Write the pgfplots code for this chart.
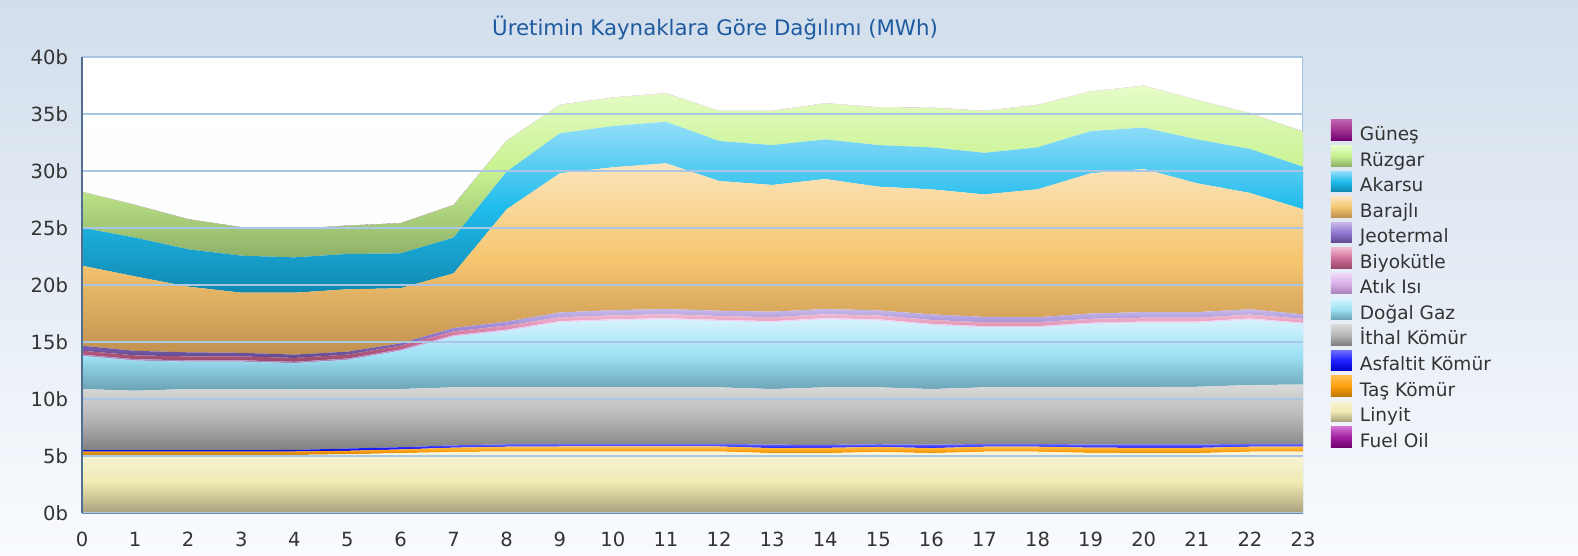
\documentclass[border=0pt]{standalone}
\usepackage{fontspec}
\setmainfont{DejaVu Sans}
\usepackage{pgfplots}
\pgfplotsset{compat=1.18}
\usepackage{pgfplotstable}

\definecolor{bgTop}{HTML}{D2DEEC}
\definecolor{bgBot}{HTML}{F9FBFE}
\definecolor{titleBlue}{HTML}{1E5AA0}
\definecolor{gridc}{HTML}{A9C6E4}
\definecolor{axisc}{HTML}{51708F}
\definecolor{borderc}{HTML}{A3C3E3}
\definecolor{txt}{HTML}{333333}

\definecolor{foT}{HTML}{D070D0}\definecolor{foM}{HTML}{A020A0}\definecolor{foB}{HTML}{700070}
\definecolor{linT}{HTML}{F7F4DA}\definecolor{linM}{HTML}{F0EAB2}\definecolor{linB}{HTML}{A8A07C}
\definecolor{tasT}{HTML}{FFC050}\definecolor{tasM}{HTML}{FFA010}\definecolor{tasB}{HTML}{C07800}
\definecolor{asfT}{HTML}{7070FF}\definecolor{asfM}{HTML}{2020FF}\definecolor{asfB}{HTML}{0000C8}
\definecolor{ithT}{HTML}{DADADA}\definecolor{ithM}{HTML}{B8B8B8}\definecolor{ithB}{HTML}{808080}
\definecolor{gazT}{HTML}{D6F3FC}\definecolor{gazM}{HTML}{9FE2F6}\definecolor{gazB}{HTML}{6AA2B4}
\definecolor{atiT}{HTML}{F0D8F8}\definecolor{atiM}{HTML}{D8B0E8}\definecolor{atiB}{HTML}{A880B8}
\definecolor{biyT}{HTML}{F0B8D0}\definecolor{biyM}{HTML}{D07098}\definecolor{biyB}{HTML}{984868}
\definecolor{jeoT}{HTML}{C8B8E8}\definecolor{jeoM}{HTML}{9078D0}\definecolor{jeoB}{HTML}{604890}
\definecolor{barT}{HTML}{FBE4BC}\definecolor{barM}{HTML}{F6C670}\definecolor{barB}{HTML}{C09050}
\definecolor{akaT}{HTML}{94DEF8}\definecolor{akaM}{HTML}{20BCEC}\definecolor{akaB}{HTML}{1088B0}
\definecolor{ruzT}{HTML}{E6FCC8}\definecolor{ruzM}{HTML}{C8F290}\definecolor{ruzB}{HTML}{8EB068}
\definecolor{gunT}{HTML}{C060B0}\definecolor{gunM}{HTML}{A03090}\definecolor{gunB}{HTML}{700070}

\pgfplotstableread{
h fo lin tas asf ith gaz atik biyo jeo bar aka ruz gun
0 0.02 5.10 0.30 0.12 5.36 2.90 0.12 0.34 0.44 7.02 3.33 3.15 0.01
1 0.02 5.10 0.30 0.12 5.21 2.65 0.12 0.34 0.39 6.53 3.40 2.86 0.01
2 0.02 5.10 0.30 0.12 5.36 2.40 0.12 0.34 0.36 5.76 3.28 2.63 0.01
3 0.02 5.10 0.30 0.12 5.36 2.40 0.12 0.34 0.32 5.27 3.25 2.49 0.01
4 0.02 5.10 0.30 0.14 5.32 2.29 0.12 0.34 0.29 5.43 3.10 2.49 0.01
5 0.02 5.16 0.30 0.20 5.22 2.56 0.12 0.34 0.26 5.47 3.10 2.48 0.01
6 0.02 5.26 0.32 0.20 5.10 3.35 0.12 0.34 0.19 4.84 3.06 2.64 0.01
7 0.02 5.36 0.38 0.20 5.09 4.45 0.12 0.34 0.29 4.80 3.13 2.86 0.01
8 0.02 5.40 0.42 0.22 5.01 4.93 0.12 0.34 0.36 9.85 3.30 2.71 0.01
9 0.02 5.40 0.44 0.24 4.97 5.67 0.12 0.34 0.42 12.20 3.51 2.49 0.01
10 0.02 5.40 0.44 0.24 4.97 5.83 0.12 0.34 0.46 12.53 3.62 2.49 0.01
11 0.02 5.40 0.44 0.24 4.97 5.93 0.12 0.34 0.46 12.78 3.65 2.49 0.01
12 0.02 5.40 0.44 0.24 4.95 5.80 0.12 0.34 0.46 11.38 3.51 2.63 0.01
13 0.02 5.26 0.44 0.30 4.88 5.84 0.12 0.34 0.49 11.11 3.50 2.99 0.01
14 0.02 5.26 0.46 0.26 5.05 5.95 0.12 0.34 0.46 11.40 3.48 3.16 0.01
15 0.02 5.36 0.44 0.24 4.99 5.85 0.12 0.34 0.44 10.85 3.65 3.31 0.01
16 0.02 5.26 0.44 0.30 4.88 5.60 0.12 0.34 0.49 10.97 3.68 3.48 0.01
17 0.02 5.38 0.44 0.24 4.97 5.25 0.12 0.34 0.47 10.74 3.65 3.67 0.01
18 0.02 5.38 0.44 0.24 4.99 5.23 0.12 0.34 0.44 11.22 3.68 3.72 0.01
19 0.02 5.28 0.46 0.28 5.03 5.53 0.12 0.34 0.47 12.29 3.71 3.46 0.01
20 0.02 5.26 0.46 0.30 5.03 5.63 0.12 0.34 0.49 12.55 3.63 3.67 0.01
21 0.02 5.26 0.46 0.30 5.06 5.60 0.12 0.34 0.49 11.30 3.85 3.45 0.01
22 0.02 5.38 0.44 0.24 5.17 5.72 0.12 0.34 0.47 10.20 3.86 3.13 0.01
23 0.02 5.40 0.44 0.24 5.20 5.30 0.12 0.34 0.39 9.22 3.73 3.07 0.01
}\data

\begin{document}
\begin{tikzpicture}
\fill[top color=bgTop, bottom color=bgBot, draw=none] (0,0) rectangle (789bp,278bp);
\node[font=\fontsize{10.7}{12}\selectfont, text=titleBlue] at (357.5bp,264bp) {Üretimin Kaynaklara Göre Dağılımı (MWh)};
\begin{axis}[
  at={(41bp,21.35bp)}, anchor=south west,
  scale only axis, width=610.5bp, height=228bp,
  xmin=0, xmax=23, ymin=0, ymax=40,
  enlargelimits=false,
  xtick={0,1,...,23},
  ytick={0,5,...,40},
  yticklabels={0b,5b,10b,15b,20b,25b,30b,35b,40b},
  /pgf/number format/assume math mode=true,
  major tick length=0pt,
  tick label style={font=\fontsize{9.8}{11}\selectfont, text=txt},
  yticklabel style={xshift=-3.5bp},
  xticklabel style={yshift=-6bp},
  ymajorgrids,
  major grid style={draw=gridc, line width=0.9bp},
  axis on top,
  axis x line*=bottom, axis y line*=left,
  x axis line style={draw=axisc!80, line width=0.8bp, -},
  y axis line style={draw=axisc, line width=0.8bp, -},
  axis background/.style={top color=white, bottom color=white!90!bgTop},
  stack plots=y,
  reverse legend,
  legend image code/.code={\fill[#1] (0bp,-3.1bp) rectangle (10.5bp,7.2bp);},
  legend style={at={(1.0229,0.8626)}, anchor=north west, draw=none, fill=none,
    inner sep=0pt, outer sep=0pt, font=\fontsize{9.3}{11}\selectfont, text=txt,
    row sep=0.33bp, column sep=4bp,
    nodes={inner sep=0pt, text height=8.3bp, text depth=2.2bp}},
  legend cell align=left,
  every axis plot/.append style={draw=none, sharp plot},
]
\addplot[top color=foT, bottom color=foB, middle color=foM] table[x=h,y=fo]{\data} \closedcycle;
\addlegendentry{Fuel Oil}
\addplot[top color=linT, bottom color=linB, middle color=linM] table[x=h,y=lin]{\data} \closedcycle;
\addlegendentry{Linyit}
\addplot[top color=tasT, bottom color=tasB, middle color=tasM] table[x=h,y=tas]{\data} \closedcycle;
\addlegendentry{Taş Kömür}
\addplot[top color=asfT, bottom color=asfB, middle color=asfM] table[x=h,y=asf]{\data} \closedcycle;
\addlegendentry{Asfaltit Kömür}
\addplot[top color=ithT, bottom color=ithB, middle color=ithM] table[x=h,y=ith]{\data} \closedcycle;
\addlegendentry{İthal Kömür}
\addplot[top color=gazT, bottom color=gazB, middle color=gazM] table[x=h,y=gaz]{\data} \closedcycle;
\addlegendentry{Doğal Gaz}
\addplot[top color=atiT, bottom color=atiB, middle color=atiM] table[x=h,y=atik]{\data} \closedcycle;
\addlegendentry{Atık Isı}
\addplot[top color=biyT, bottom color=biyB, middle color=biyM] table[x=h,y=biyo]{\data} \closedcycle;
\addlegendentry{Biyokütle}
\addplot[top color=jeoT, bottom color=jeoB, middle color=jeoM] table[x=h,y=jeo]{\data} \closedcycle;
\addlegendentry{Jeotermal}
\addplot[top color=barT, bottom color=barB, middle color=barM] table[x=h,y=bar]{\data} \closedcycle;
\addlegendentry{Barajlı}
\addplot[top color=akaT, bottom color=akaB, middle color=akaM] table[x=h,y=aka]{\data} \closedcycle;
\addlegendentry{Akarsu}
\addplot[top color=ruzT, bottom color=ruzB, middle color=ruzM] table[x=h,y=ruz]{\data} \closedcycle;
\addlegendentry{Rüzgar}
\addplot[top color=gunT, bottom color=gunB, middle color=gunM] table[x=h,y=gun]{\data} \closedcycle;
\addlegendentry{Güneş}
\draw[borderc, line width=0.9bp] (rel axis cs:0,1) -- (rel axis cs:1,1) -- (rel axis cs:1,0);
\end{axis}
\pgfresetboundingbox
\useasboundingbox (0,0) rectangle (789bp,278bp);
\end{tikzpicture}
\end{document}
